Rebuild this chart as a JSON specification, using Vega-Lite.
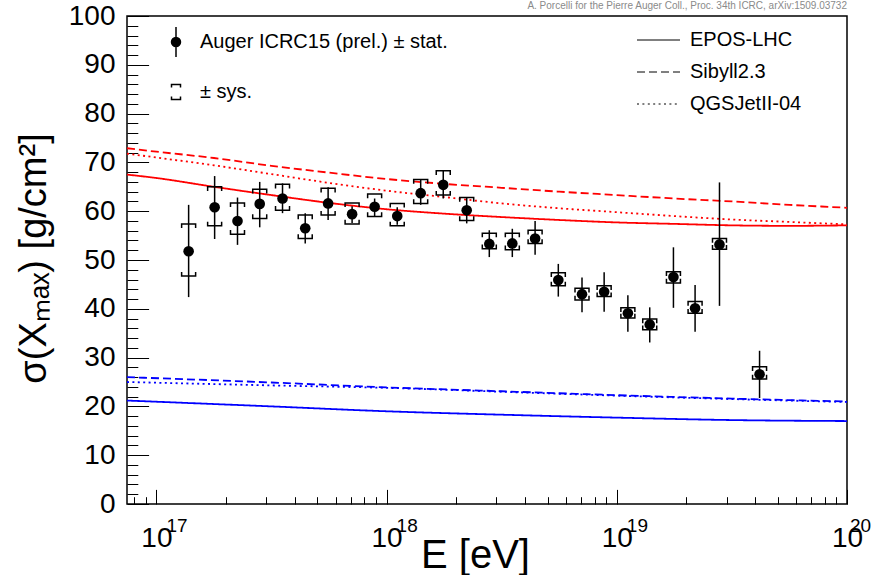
{
  "$schema": "https://vega.github.io/schema/vega-lite/v6.json",
  "width": 720,
  "height": 488,
  "autosize": {"type": "none"},
  "padding": {"left": 127, "top": 16, "right": 25, "bottom": 71},
  "background": "white",
  "title": {
    "text": "A. Porcelli for the Pierre Auger Coll., Proc. 34th ICRC, arXiv:1509.03732",
    "anchor": "end",
    "frame": "group",
    "fontSize": 10,
    "fontWeight": "normal",
    "font": "Liberation Sans",
    "color": "#8a8a8a",
    "offset": 5,
    "dy": 14
  },
  "resolve": {"axis": {"x": "independent", "y": "independent"}},
  "config": {
    "font": "Liberation Sans",
    "view": {"stroke": "black", "strokeWidth": 1.5},
    "axis": {
      "labelFont": "Liberation Sans",
      "titleFont": "Liberation Sans",
      "labelColor": "black",
      "titleColor": "black",
      "grid": false,
      "domain": false,
      "ticks": true,
      "tickColor": "black",
      "tickWidth": 1,
      "labelFontSize": 28,
      "titleFontWeight": "normal",
      "labelFlush": false,
      "labelBound": false,
      "labelOverlap": false
    },
    "legend": {
      "labelFont": "Liberation Sans",
      "labelFontSize": 20,
      "labelColor": "black",
      "labelLimit": 500,
      "padding": 0
    }
  },
  "datasets": {
    "pts": [
      {"E": 1.38e17, "s": 51.8, "stLo": 42.4, "stHi": 61.3, "syLo": 46.7, "syHi": 57.4},
      {"E": 1.79e17, "s": 60.8, "stLo": 54.3, "stHi": 67.2, "syLo": 57.0, "syHi": 65.0},
      {"E": 2.25e17, "s": 58.0, "stLo": 53.1, "stHi": 62.8, "syLo": 55.3, "syHi": 61.7},
      {"E": 2.81e17, "s": 61.5, "stLo": 56.7, "stHi": 66.0, "syLo": 58.5, "syHi": 64.5},
      {"E": 3.53e17, "s": 62.6, "stLo": 59.6, "stHi": 65.7, "syLo": 60.2, "syHi": 65.5},
      {"E": 4.43e17, "s": 56.5, "stLo": 53.4, "stHi": 59.6, "syLo": 54.4, "syHi": 59.2},
      {"E": 5.57e17, "s": 61.6, "stLo": 58.2, "stHi": 64.9, "syLo": 59.2, "syHi": 64.7},
      {"E": 7.08e17, "s": 59.4, "stLo": 57.6, "stHi": 61.0, "syLo": 57.4, "syHi": 61.7},
      {"E": 8.87e17, "s": 60.9, "stLo": 58.9, "stHi": 62.6, "syLo": 58.9, "syHi": 63.5},
      {"E": 1.112e18, "s": 59.0, "stLo": 57.2, "stHi": 60.8, "syLo": 57.0, "syHi": 61.6},
      {"E": 1.406e18, "s": 63.7, "stLo": 61.3, "stHi": 66.5, "syLo": 61.6, "syHi": 66.5},
      {"E": 1.762e18, "s": 65.4, "stLo": 62.6, "stHi": 68.4, "syLo": 63.3, "syHi": 68.3},
      {"E": 2.228e18, "s": 60.2, "stLo": 57.5, "stHi": 62.8, "syLo": 58.1, "syHi": 62.8},
      {"E": 2.793e18, "s": 53.3, "stLo": 50.6, "stHi": 56.1, "syLo": 52.3, "syHi": 55.5},
      {"E": 3.516e18, "s": 53.4, "stLo": 50.6, "stHi": 56.4, "syLo": 52.1, "syHi": 55.5},
      {"E": 4.416e18, "s": 54.4, "stLo": 51.1, "stHi": 58.0, "syLo": 53.4, "syHi": 56.1},
      {"E": 5.57e18, "s": 45.9, "stLo": 42.5, "stHi": 49.2, "syLo": 44.7, "syHi": 47.4},
      {"E": 7.06e18, "s": 43.0, "stLo": 39.3, "stHi": 46.4, "syLo": 41.8, "syHi": 44.2},
      {"E": 8.81e18, "s": 43.5, "stLo": 39.4, "stHi": 47.5, "syLo": 42.5, "syHi": 44.7},
      {"E": 1.117e19, "s": 39.1, "stLo": 35.3, "stHi": 42.8, "syLo": 38.1, "syHi": 40.2},
      {"E": 1.39e19, "s": 36.8, "stLo": 33.1, "stHi": 40.3, "syLo": 35.7, "syHi": 37.9},
      {"E": 1.762e19, "s": 46.5, "stLo": 40.2, "stHi": 52.6, "syLo": 45.3, "syHi": 47.6},
      {"E": 2.188e19, "s": 40.1, "stLo": 35.3, "stHi": 44.9, "syLo": 39.1, "syHi": 41.5},
      {"E": 2.793e19, "s": 53.2, "stLo": 40.6, "stHi": 65.9, "syLo": 52.2, "syHi": 54.4},
      {"E": 4.17e19, "s": 26.6, "stLo": 21.7, "stHi": 31.4, "syLo": 25.6, "syHi": 28.1}
    ],
    "models": [
      {"E": 7.45e16, "s": 67.5, "model": "EPOS-LHC", "comp": "p"},
      {"E": 1e17, "s": 66.8, "model": "EPOS-LHC", "comp": "p"},
      {"E": 1.778e17, "s": 65.0, "model": "EPOS-LHC", "comp": "p"},
      {"E": 3.162e17, "s": 63.3, "model": "EPOS-LHC", "comp": "p"},
      {"E": 5.623e17, "s": 61.7, "model": "EPOS-LHC", "comp": "p"},
      {"E": 1e18, "s": 60.4, "model": "EPOS-LHC", "comp": "p"},
      {"E": 1.778e18, "s": 59.5, "model": "EPOS-LHC", "comp": "p"},
      {"E": 3.162e18, "s": 58.8, "model": "EPOS-LHC", "comp": "p"},
      {"E": 5.623e18, "s": 58.2, "model": "EPOS-LHC", "comp": "p"},
      {"E": 1e19, "s": 57.7, "model": "EPOS-LHC", "comp": "p"},
      {"E": 1.778e19, "s": 57.4, "model": "EPOS-LHC", "comp": "p"},
      {"E": 3.162e19, "s": 57.1, "model": "EPOS-LHC", "comp": "p"},
      {"E": 5.623e19, "s": 57.0, "model": "EPOS-LHC", "comp": "p"},
      {"E": 1e20, "s": 57.1, "model": "EPOS-LHC", "comp": "p"},
      {"E": 7.45e16, "s": 72.9, "model": "Sibyll2.3", "comp": "p"},
      {"E": 1e17, "s": 72.2, "model": "Sibyll2.3", "comp": "p"},
      {"E": 1.778e17, "s": 70.9, "model": "Sibyll2.3", "comp": "p"},
      {"E": 3.162e17, "s": 69.3, "model": "Sibyll2.3", "comp": "p"},
      {"E": 5.623e17, "s": 67.9, "model": "Sibyll2.3", "comp": "p"},
      {"E": 1e18, "s": 66.6, "model": "Sibyll2.3", "comp": "p"},
      {"E": 1.778e18, "s": 65.6, "model": "Sibyll2.3", "comp": "p"},
      {"E": 3.162e18, "s": 64.8, "model": "Sibyll2.3", "comp": "p"},
      {"E": 5.623e18, "s": 64.0, "model": "Sibyll2.3", "comp": "p"},
      {"E": 1e19, "s": 63.3, "model": "Sibyll2.3", "comp": "p"},
      {"E": 1.778e19, "s": 62.6, "model": "Sibyll2.3", "comp": "p"},
      {"E": 3.162e19, "s": 62.0, "model": "Sibyll2.3", "comp": "p"},
      {"E": 5.623e19, "s": 61.3, "model": "Sibyll2.3", "comp": "p"},
      {"E": 1e20, "s": 60.7, "model": "Sibyll2.3", "comp": "p"},
      {"E": 7.45e16, "s": 71.8, "model": "QGSJetII-04", "comp": "p"},
      {"E": 1e17, "s": 71.0, "model": "QGSJetII-04", "comp": "p"},
      {"E": 1.778e17, "s": 69.4, "model": "QGSJetII-04", "comp": "p"},
      {"E": 3.162e17, "s": 67.6, "model": "QGSJetII-04", "comp": "p"},
      {"E": 5.623e17, "s": 65.8, "model": "QGSJetII-04", "comp": "p"},
      {"E": 1e18, "s": 64.2, "model": "QGSJetII-04", "comp": "p"},
      {"E": 1.778e18, "s": 62.9, "model": "QGSJetII-04", "comp": "p"},
      {"E": 3.162e18, "s": 61.6, "model": "QGSJetII-04", "comp": "p"},
      {"E": 5.623e18, "s": 60.6, "model": "QGSJetII-04", "comp": "p"},
      {"E": 1e19, "s": 59.8, "model": "QGSJetII-04", "comp": "p"},
      {"E": 1.778e19, "s": 59.0, "model": "QGSJetII-04", "comp": "p"},
      {"E": 3.162e19, "s": 58.3, "model": "QGSJetII-04", "comp": "p"},
      {"E": 5.623e19, "s": 57.8, "model": "QGSJetII-04", "comp": "p"},
      {"E": 1e20, "s": 57.3, "model": "QGSJetII-04", "comp": "p"},
      {"E": 7.45e16, "s": 21.2, "model": "EPOS-LHC", "comp": "Fe"},
      {"E": 3.162e17, "s": 20.0, "model": "EPOS-LHC", "comp": "Fe"},
      {"E": 1e18, "s": 19.0, "model": "EPOS-LHC", "comp": "Fe"},
      {"E": 3.162e18, "s": 18.3, "model": "EPOS-LHC", "comp": "Fe"},
      {"E": 1e19, "s": 17.7, "model": "EPOS-LHC", "comp": "Fe"},
      {"E": 3.162e19, "s": 17.2, "model": "EPOS-LHC", "comp": "Fe"},
      {"E": 1e20, "s": 17.0, "model": "EPOS-LHC", "comp": "Fe"},
      {"E": 7.45e16, "s": 26.0, "model": "Sibyll2.3", "comp": "Fe"},
      {"E": 3.162e17, "s": 24.9, "model": "Sibyll2.3", "comp": "Fe"},
      {"E": 1e18, "s": 23.9, "model": "Sibyll2.3", "comp": "Fe"},
      {"E": 3.162e18, "s": 23.1, "model": "Sibyll2.3", "comp": "Fe"},
      {"E": 1e19, "s": 22.3, "model": "Sibyll2.3", "comp": "Fe"},
      {"E": 3.162e19, "s": 21.6, "model": "Sibyll2.3", "comp": "Fe"},
      {"E": 1e20, "s": 21.0, "model": "Sibyll2.3", "comp": "Fe"},
      {"E": 7.45e16, "s": 25.0, "model": "QGSJetII-04", "comp": "Fe"},
      {"E": 3.162e17, "s": 24.3, "model": "QGSJetII-04", "comp": "Fe"},
      {"E": 1e18, "s": 23.8, "model": "QGSJetII-04", "comp": "Fe"},
      {"E": 3.162e18, "s": 23.0, "model": "QGSJetII-04", "comp": "Fe"},
      {"E": 1e19, "s": 22.2, "model": "QGSJetII-04", "comp": "Fe"},
      {"E": 3.162e19, "s": 21.5, "model": "QGSJetII-04", "comp": "Fe"},
      {"E": 1e20, "s": 20.9, "model": "QGSJetII-04", "comp": "Fe"}
    ],
    "xlab": [
      {"E": 1e17, "e": "17"},
      {"E": 1e18, "e": "18"},
      {"E": 1e19, "e": "19"},
      {"E": 1e20, "e": "20"}
    ]
  },
  "layer": [
    {
      "data": {"name": "models"},
      "mark": {"type": "line", "strokeWidth": 1.8, "interpolate": "monotone"},
      "encoding": {
        "x": {
          "field": "E", "type": "quantitative",
          "scale": {"type": "log", "domain": [7.45e16, 1e20], "nice": false},
          "axis": {
            "orient": "bottom",
            "title": "E [eV]",
            "titleFontSize": 40,
            "titleBaseline": "alphabetic",
            "titleX": 348,
            "titleY": 63,
            "titleAlign": "center",
            "values": [1e17, 1e18, 1e19, 1e20],
            "labelExpr": "'10'",
            "labelBaseline": "alphabetic",
            "labelOverlap": false,
            "tickSize": -14.6,
            "labelPadding": 56.6,
            "encode": {
              "labels": {"update": {"dx": {"signal": "datum.value >= 9.9e19 ? -12 : -9"}}}
            }
          }
        },
        "y": {
          "field": "s", "type": "quantitative",
          "scale": {"domain": [0, 100], "nice": false},
          "axis": {
            "orient": "left",
            "title": "σ(Xₘₐₓ) [g/cm²]",
            "titleFontSize": 38,
            "titleBaseline": "alphabetic",
            "titleAngle": 270,
            "titleX": -82,
            "titleY": 242,
            "titleAlign": "center",
            "values": [0, 10, 20, 30, 40, 50, 60, 70, 80, 90, 100],
            "labelOverlap": false,
            "tickSize": -21.6,
            "labelPadding": 33.6
          }
        },
        "color": {
          "field": "comp", "type": "nominal",
          "scale": {"domain": ["p", "Fe"], "range": ["#ff0000", "#0000ff"]},
          "legend": null
        },
        "strokeDash": {
          "field": "model", "type": "nominal",
          "scale": {"domain": ["EPOS-LHC", "Sibyll2.3", "QGSJetII-04"], "range": [[1, 0], [8, 4], [2, 3.4]]},
          "legend": {
            "title": null,
            "orient": "none",
            "legendX": 509.5,
            "legendY": 2,
            "symbolType": "stroke",
            "symbolSize": 1849,
            "symbolStrokeWidth": 1,
            "symbolStrokeColor": "black",
            "labelOffset": 9.5,
            "rowPadding": -14
          }
        }
      }
    },
    {
      "data": {"name": "pts"},
      "mark": {"type": "rule", "color": "black", "strokeWidth": 1.5},
      "encoding": {
        "x": {
          "field": "E", "type": "quantitative",
          "axis": {
            "orient": "bottom",
            "title": null,
            "labels": false,
            "values": [8e16, 9e16, 2e17, 3e17, 4e17, 5e17, 6e17, 7e17, 8e17, 9e17, 2e18, 3e18, 4e18, 5e18, 6e18, 7e18, 8e18, 9e18, 2e19, 3e19, 4e19, 5e19, 6e19, 7e19, 8e19, 9e19],
            "tickSize": -7.3
          }
        },
        "y": {
          "field": "stLo", "type": "quantitative",
          "axis": {
            "orient": "left",
            "title": null,
            "labels": false,
            "values": [2, 4, 6, 8, 12, 14, 16, 18, 22, 24, 26, 28, 32, 34, 36, 38, 42, 44, 46, 48, 52, 54, 56, 58, 62, 64, 66, 68, 72, 74, 76, 78, 82, 84, 86, 88, 92, 94, 96, 98],
            "tickSize": -10.8
          }
        },
        "y2": {"field": "stHi"}
      }
    },
    {
      "data": {"name": "pts"},
      "mark": {"type": "point", "shape": "M-1,0.6L-1,0L1,0L1,0.6", "size": 196, "filled": false, "stroke": "black", "strokeWidth": 1.5, "opacity": 1},
      "encoding": {
        "x": {"field": "E", "type": "quantitative", "axis": null},
        "y": {"field": "syHi", "type": "quantitative", "axis": null}
      }
    },
    {
      "data": {"name": "pts"},
      "mark": {"type": "point", "shape": "M-1,-0.6L-1,0L1,0L1,-0.6", "size": 196, "filled": false, "stroke": "black", "strokeWidth": 1.5, "opacity": 1},
      "encoding": {
        "x": {"field": "E", "type": "quantitative", "axis": null},
        "y": {"field": "syLo", "type": "quantitative", "axis": null}
      }
    },
    {
      "data": {"name": "pts"},
      "mark": {"type": "point", "shape": "circle", "filled": true, "size": 113, "color": "black", "opacity": 1},
      "encoding": {
        "x": {"field": "E", "type": "quantitative", "axis": null},
        "y": {"field": "s", "type": "quantitative", "axis": null}
      }
    },
    {
      "data": {"name": "pts"},
      "transform": [{"filter": "false"}],
      "mark": {"type": "point", "filled": false, "color": "black", "strokeWidth": 1.5, "opacity": 1},
      "encoding": {
        "x": {"field": "E", "type": "quantitative", "axis": null},
        "y": {"field": "s", "type": "quantitative", "axis": null},
        "shape": {
          "field": "leg", "type": "nominal",
          "scale": {
            "domain": ["Auger ICRC15 (prel.) ± stat.", "± sys."],
            "range": [
              "M0,-1L0,1M0.3,0A0.3,0.3,0,1,1,-0.3,0A0.3,0.3,0,1,1,0.3,0M0.22,0A0.22,0.22,0,1,1,-0.22,0A0.22,0.22,0,1,1,0.22,0M0.14,0A0.14,0.14,0,1,1,-0.14,0A0.14,0.14,0,1,1,0.14,0M0.06,0A0.06,0.06,0,1,1,-0.06,0A0.06,0.06,0,1,1,0.06,0",
              "M-0.3,-0.3L-0.3,-0.5L0.3,-0.5L0.3,-0.3M-0.3,0.3L-0.3,0.5L0.3,0.5L0.3,0.3"
            ]
          },
          "legend": {
            "title": null,
            "orient": "none",
            "legendX": 33,
            "legendY": 10,
            "symbolSize": 900,
            "symbolStrokeWidth": 1.5,
            "symbolStrokeColor": "black",
            "labelOffset": 8,
            "rowPadding": 16
          }
        }
      }
    },
    {
      "data": {"name": "xlab"},
      "mark": {"type": "text", "align": "left", "baseline": "alphabetic", "dx": {"expr": "datum.E >= 9.9e19 ? 3 : 10"}, "dy": 28, "fontSize": 19, "font": "Liberation Sans", "color": "black"},
      "encoding": {
        "x": {"field": "E", "type": "quantitative", "axis": null},
        "y": {"datum": 0, "type": "quantitative", "axis": null},
        "text": {"field": "e", "type": "nominal"}
      }
    }
  ]
}
